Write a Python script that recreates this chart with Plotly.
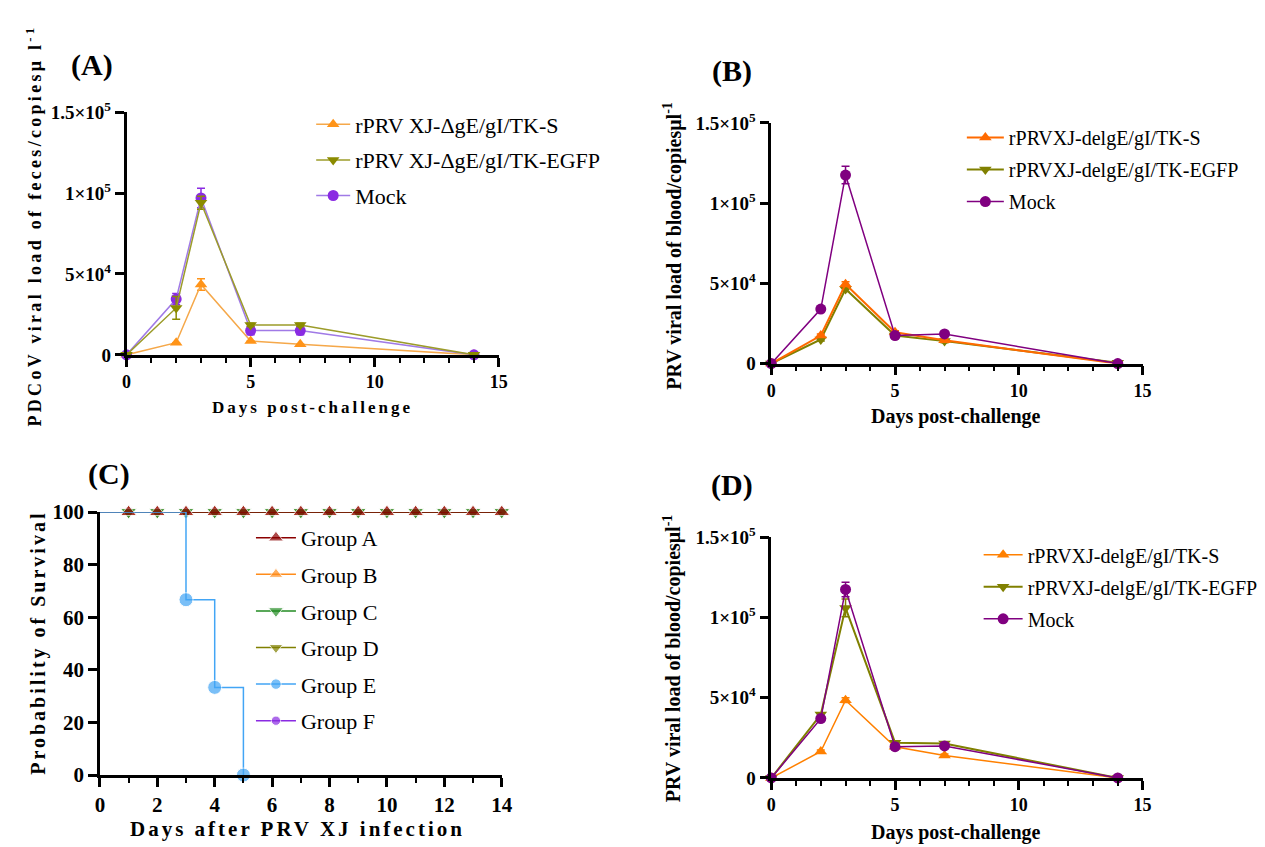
import plotly.graph_objects as go

# ---------------- data ----------------
days = [0, 2, 3, 5, 7, 14]

# Panel A (feces, PDCoV)
A_S = [0, 7500, 43500, 8500, 6500, 0]
A_S_err = [0, 0, 3500, 0, 0, 0]
A_EGFP = [0, 29000, 94000, 18500, 18500, 0]
A_EGFP_err = [0, 7000, 4000, 1000, 1000, 0]
A_Mock = [0, 34500, 97000, 15000, 15000, 0]
A_Mock_err = [0, 3500, 6000, 2500, 2500, 0]

# Panel B (blood, PRV)
B_S = [0, 17500, 49500, 19500, 14500, 0]
B_S_err = [0, 1000, 1500, 1000, 1000, 0]
B_EGFP = [0, 15000, 46500, 17500, 14000, 500]
B_EGFP_err = [0, 1000, 1500, 1000, 1000, 0]
B_Mock = [0, 34000, 117500, 17500, 18500, 0]
B_Mock_err = [0, 1000, 5500, 1000, 1000, 0]

# Panel D (blood, PRV)
D_S = [0, 16500, 48500, 19500, 14000, 0]
D_S_err = [0, 1000, 1500, 1000, 1000, 0]
D_EGFP = [0, 39500, 106000, 22000, 21500, 0]
D_EGFP_err = [0, 1000, 5500, 1000, 1000, 0]
D_Mock = [0, 37000, 117500, 19500, 20000, 0]
D_Mock_err = [0, 1000, 4500, 1000, 1000, 0]

# Panel C (survival)
surv_days = list(range(0, 15))
surv_full = [100] * 15
E_days = [0, 3, 4, 5]
E_surv = [100, 66.67, 33.33, 0]

yticks_vals = [0, 50000, 100000, 150000]
yticks_text = ["0", "5×10<sup>4</sup>", "1×10<sup>5</sup>", "1.5×10<sup>5</sup>"]
xticks_days = [0, 5, 10, 15]
xticks_surv = [0, 2, 4, 6, 8, 10, 12, 14]
yticks_surv = [0, 20, 40, 60, 80, 100]

W, H = 1265, 847
SERIF = "Liberation Serif"


def px(x):
    return x / W


def py(y):
    return 1 - y / H


fig = go.Figure()


def add_line(x, y, err, name, color, linecolor, symbol, xa, ya, legend, rank, size=11, lw=1.5):
    fig.add_trace(go.Scatter(
        x=x, y=y, name=name, mode="lines+markers",
        xaxis=xa, yaxis=ya, legend=legend, legendgroup=legend + name, legendrank=rank,
        line=dict(color=linecolor, width=lw),
        marker=dict(symbol=symbol, size=size, color=color),
        error_y=dict(type="data", array=err, visible=True, color=color, thickness=1.5, width=4),
        cliponaxis=False,
    ))


# Panel A
add_line(days, A_S, A_S_err, "rPRV XJ-ΔgE/gI/TK-S", "#FF9419", "#F5A84A", "triangle-up", "x", "y", "legend", 1)
add_line(days, A_Mock, A_Mock_err, "Mock", "#8A2BE2", "#A07AE6", "circle", "x", "y", "legend", 3)
add_line(days, A_EGFP, A_EGFP_err, "rPRV XJ-ΔgE/gI/TK-EGFP", "#8B8B00", "#9C9C2A", "triangle-down", "x", "y", "legend", 2)

# Panel B
add_line(days, B_EGFP, B_EGFP_err, "rPRVXJ-delgE/gI/TK-EGFP", "#808000", "#808000", "triangle-down", "x2", "y2", "legend2", 2, lw=2)
add_line(days, B_S, B_S_err, "rPRVXJ-delgE/gI/TK-S", "#FF6A00", "#FF6A00", "triangle-up", "x2", "y2", "legend2", 1, lw=2)
add_line(days, B_Mock, B_Mock_err, "Mock", "#800080", "#800080", "circle", "x2", "y2", "legend2", 3)

# Panel D
add_line(days, D_S, D_S_err, "rPRVXJ-delgE/gI/TK-S", "#FF8000", "#FF8000", "triangle-up", "x4", "y4", "legend4", 1, lw=1.5)
add_line(days, D_EGFP, D_EGFP_err, "rPRVXJ-delgE/gI/TK-EGFP", "#808000", "#808000", "triangle-down", "x4", "y4", "legend4", 2, lw=2)
add_line(days, D_Mock, D_Mock_err, "Mock", "#800080", "#800080", "circle", "x4", "y4", "legend4", 3)

# Panel C (survival) - drawing order chosen so Group A sits on top
C_groups = [
    ("Group F", "#8A2BE2", "circle", 6, 10),
    ("Group B", "#FF8C1A", "triangle-up", 2, 13),
    ("Group D", "#808000", "triangle-down", 4, 13),
    ("Group C", "#228B22", "triangle-down", 3, 14),
    ("Group A", "#8B0000", "triangle-up", 1, 14),
]
for name, color, sym, rank, msize in C_groups:
    fig.add_trace(go.Scatter(
        x=surv_days, y=surv_full, name=name, mode="lines+markers",
        xaxis="x3", yaxis="y3", legend="legend3", legendgroup="C" + name, legendrank=rank,
        line=dict(color=color, width=1.5, shape="hv"),
        marker=dict(symbol=sym, size=[0] + [msize] * 14, color=color),
        cliponaxis=False,
    ))
fig.add_trace(go.Scatter(
    x=E_days, y=E_surv, name="Group E", mode="lines+markers",
    xaxis="x3", yaxis="y3", legend="legend3", legendgroup="CGroup E", legendrank=5,
    line=dict(color="#42A5F5", width=1.5, shape="hv"),
    marker=dict(symbol="circle", size=[0, 14, 14, 14], color="#42A5F5"),
    cliponaxis=False,
))


def b(vals):
    return ["<b>%s</b>" % v for v in vals]


axis_common = dict(showline=True, linecolor="black", linewidth=2.5, ticks="outside",
                   tickwidth=2.5, tickcolor="black", ticklen=9, showgrid=False, zeroline=False)


def tf(size):
    return dict(family=SERIF, size=size, color="black")


def xaxis(domain, anchor, rng, vals, size):
    return dict(domain=domain, anchor=anchor, range=rng, tickmode="array",
                tickvals=vals, ticktext=b(vals), tickfont=tf(size),
                minor=dict(tickmode="linear", dtick=1, tick0=0, ticks="outside", ticklen=5,
                           tickwidth=2, tickcolor="black"),
                **axis_common)


def yaxis_sci(domain, anchor):
    return dict(domain=domain, anchor=anchor, range=[0, 150000], tickmode="array",
                tickvals=yticks_vals, ticktext=b(yticks_text), tickfont=tf(19), **axis_common)


def legend(x, y, gap, size, iw):
    return dict(x=px(x), y=py(y), xanchor="left", yanchor="top",
                font=dict(family=SERIF, size=size, color="black"),
                bgcolor="rgba(0,0,0,0)", traceorder="grouped", tracegroupgap=gap, itemwidth=iw)


fig.update_layout(
    width=W, height=H, paper_bgcolor="white", plot_bgcolor="white",
    margin=dict(l=0, r=0, t=0, b=0), showlegend=True,
    xaxis=xaxis([px(115), px(492)], "y", [0, 15], xticks_days, 18),
    yaxis=yaxis_sci([py(344), py(94)], "x"),
    xaxis2=xaxis([px(768), px(1144)], "y2", [0, 15], xticks_days, 18),
    yaxis2=yaxis_sci([py(353), py(105)], "x2"),
    xaxis3=xaxis([px(88), px(495)], "y3", [0, 14], xticks_surv, 21),
    yaxis3=dict(domain=[py(777), py(506)], anchor="x3", range=[0, 100], tickmode="array",
                tickvals=yticks_surv, ticktext=b(yticks_surv), tickfont=tf(21), **axis_common),
    xaxis4=xaxis([px(768), px(1144)], "y4", [0, 15], xticks_days, 18),
    yaxis4=yaxis_sci([py(780), py(532)], "x4"),
    legend=legend(302, 85, 4, 22, 34),
    legend2=legend(961, 100, 3, 20, 37),
    legend3=legend(241, 511, 5, 22, 40),
    legend4=legend(978, 530, 3, 20, 39),
)

ann = []
bold = dict(family=SERIF, color="black", weight="bold")


def text(x, y, t, size, angle=0, xanchor="center"):
    ann.append(dict(x=px(x), y=py(y), xref="paper", yref="paper", text=t, showarrow=False,
                    textangle=angle, xanchor=xanchor, yanchor="middle", font=dict(size=size, **bold)))


# panel labels
text(80, 45, "(A)", 30)
text(728, 52, "(B)", 30)
text(97, 467, "(C)", 30)
text(728, 478, "(D)", 30)

sp = '<span style="letter-spacing:3px">{}</span>'
# axis titles
text(303, 398, sp.format("Days post-challenge"), 17)
text(22, 211, '<span style="letter-spacing:3.3px">PDCoV viral load of feces/copiesμ l<sup>-1</sup></span>', 18, angle=-90)
text(955, 408, "Days post-challenge", 20)
text(668, 232, "PRV viral load of blood/copiesμl<sup>-1</sup>", 20, angle=-90)
text(955, 836, "Days post-challenge", 20)
text(668, 657, "PRV viral load of blood/copiesμl<sup>-1</sup>", 20, angle=-90)
text(288, 833, sp.format("Days after PRV XJ infection"), 21)
text(25, 641, sp.format("Probability of Survival"), 20, angle=-90)

fig.update_layout(annotations=ann)
fig.write_html("out.html")
